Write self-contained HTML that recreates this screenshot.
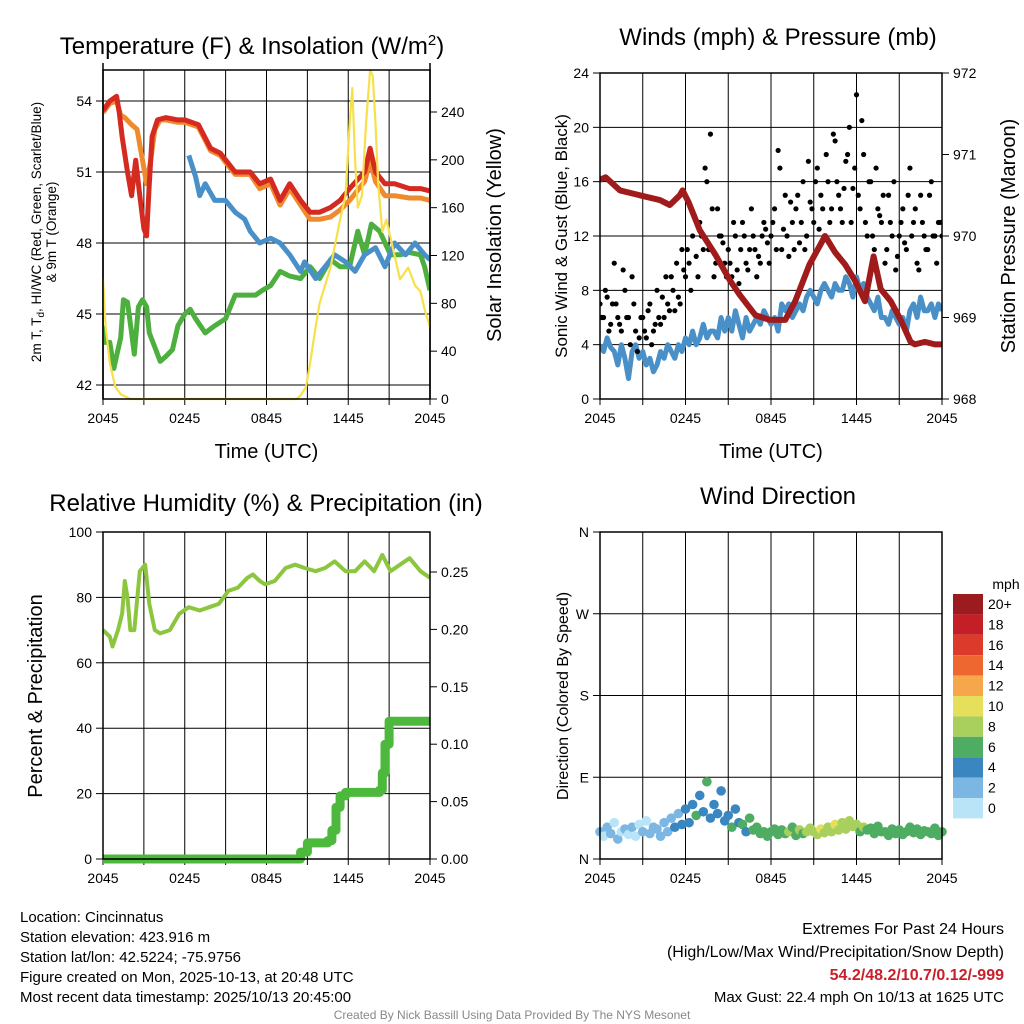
<!DOCTYPE html>
<html><head><meta charset="utf-8"><style>
html,body{margin:0;padding:0;background:#fff;}
svg{display:block;font-family:"Liberation Sans",Arial,sans-serif;}
</style></head><body>
<svg id="chart" width="1024" height="1024" viewBox="0 0 1024 1024" xmlns="http://www.w3.org/2000/svg"></svg>
<script>
// ---------- DATA ----------
const tempRedH = [0,0.5,1.0,1.2,1.4,1.8,2.1,2.4,2.7,3.0,3.2,3.4,3.6,4.0,4.6,5.5,6.0,7.0,7.9,8.6,9.7,10.8,11.5,12.3,13.0,13.7,14.5,15.2,15.9,16.7,17.4,18.1,19.2,19.6,20.0,20.7,21.4,22.5,23.3,24];
const tempRedV = [53.6,54.0,54.2,53.5,52.5,51.0,50.0,51.5,50.0,48.6,48.3,50.5,52.5,53.2,53.3,53.2,53.2,53.0,52.0,51.8,51.0,51.0,50.5,50.7,49.8,50.5,49.8,49.3,49.3,49.5,49.8,50.3,51.0,52.0,51.0,50.5,50.5,50.3,50.3,50.2];
const tempOrgH = [0,0.5,1.0,1.3,1.6,2.1,2.5,2.9,3.2,3.5,3.8,4.2,4.6,5.5,6.0,7.0,7.9,8.6,9.7,10.8,11.5,12.3,13.0,13.7,14.5,15.2,15.9,16.7,17.4,18.1,19.2,19.6,20.0,20.7,21.4,22.5,23.3,24];
const tempOrgV = [53.5,53.9,54.0,53.4,53.3,53.0,52.8,51.5,50.5,51.5,52.8,53.2,53.2,53.1,53.1,52.9,51.9,51.7,50.9,50.9,50.3,50.5,49.6,50.3,49.6,49.0,49.0,49.1,49.4,49.8,50.6,51.5,50.6,50.0,50.0,49.9,49.9,49.8];
const tempBlueH = [6.3,6.8,7.1,7.5,8.2,9.0,9.7,10.4,10.8,11.5,12.3,13.0,13.7,14.5,14.8,15.6,16.3,17.0,17.8,18.5,19.2,20.0,20.7,21.4,22.2,22.9,23.6,24];
const tempBlueV = [51.7,50.8,50.0,50.5,49.8,49.8,49.3,49.0,48.5,48.0,48.2,48.0,47.5,46.8,47.2,46.5,47.0,47.5,47.2,46.8,47.5,47.8,47.0,48.0,47.5,48.0,47.5,47.3];
const dewH = [0,0.15,0.5,0.8,1.1,1.3,1.5,1.8,2.1,2.3,2.6,2.9,3.2,3.4,3.8,4.2,4.6,5.1,5.5,6.0,6.4,6.8,7.5,8.2,9.0,9.7,10.4,11.2,11.7,12.3,13.0,13.7,14.5,15.2,15.9,16.7,17.4,18.1,18.7,19.2,19.7,20.3,21.1,21.8,22.5,23.3,23.6,24];
const dewV = [44.5,43.8,43.8,42.7,43.5,44.0,45.6,45.5,44.2,43.3,45.3,45.6,45.3,44.2,43.6,43.0,43.2,43.5,44.5,45.0,45.2,44.8,44.2,44.5,44.8,45.8,45.8,45.8,46.0,46.2,46.8,46.6,46.5,47.0,46.5,47.3,47.0,47.0,48.5,47.5,48.8,48.5,47.5,47.5,47.6,47.5,47.0,46.0];
const solarH = [0,0.2,0.5,0.9,1.3,2.0,5,10,14.2,14.5,14.9,15.2,15.6,15.9,16.7,17.4,17.8,18.1,18.3,18.5,18.7,19.0,19.3,19.6,19.8,20.0,20.2,20.5,20.8,21.2,21.8,22.4,22.9,23.3,23.6,24];
const solarV = [100,60,30,10,4,0,0,0,0,3,10,30,60,80,110,150,170,230,260,200,160,170,230,275,270,230,180,140,150,130,100,110,95,90,75,60];
const tempTicks = [42,45,48,51,54];
const solarTicks = [0,40,80,120,160,200,240];
const timeLabels = ["2045","0245","0845","1445","2045"];
const windSpd = [4,3.5,4.5,3.8, 3.5,2.5,4,3, 1.5,3.5,4,3, 3.5,2.5,3,2, 2.5,3.5,3,4, 3.5,3,4,3.5, 4.5,4,5,4, 4.5,5.5,4.5,5, 5,4.5,6,5, 6,5,6.5,5.5, 4.5,6,5,5.5, 6,5.5,6.5,6, 5.5,6,5,7, 6.5,7,6,6.5, 7,6.5,7.5,8, 7.5,7,8,8.5, 8,7.5,8.5,8, 8,9,8.5,7.5, 9,8,8.5,7.5, 7,6.5,7.5,6, 6,5.5,6.5,6, 5.5,6,5,6.5, 7,6,7.5,6.5, 6.5,7,6,7, 6.5];
const gustA = [7,6,7.5,5.5, 10,6,5,8, 6,9,5,4.5, 6,4.5,7,5, 8,5.5,6,7, 9,6.5,7.5,11, 9,10,12,10.5, 13,11,16,19.5, 9,14,12,10, 11,9,12,8.5, 13,10,11,12, 9,10,13,11.5, 12,14,18.3,11, 15,10.5,13,14, 11.5,16,12,14.5, 13,17,15,12, 16,14,19,15, 13,17.5,20,15.5, 22.4,14,18,12, 16,11,14,13, 10,15,12,9.5, 12,14,11,17, 13,10,15,12, 11,16,12,13, 12];
const gustB = [6,8,5,7, 7,5.5,9.5,6, 4,7,3.5,6, 5,6.5,4,5.5, 6,7.5,9,6.5, 8,10,7,9.5, 11,8,13.5,9, 12,17,11,14, 10,12,11.5,9, 10,13,9.5,11, 12,9.5,14,11, 10.5,12,12.5,10, 13,11,17,12.5, 12,14.5,11,15, 13,11,17.5,14, 16,12.5,14,18, 13,19.5,16,14, 15.5,18,13,17, 15,20.5,13,16, 12,17,13.5,15, 11,13,16,10.5, 13,11.5,15,12, 14,9.5,13,11, 15,12,10,13];
const presH = [0,0.4,1.4,2.8,4.2,4.9,5.6,5.8,6.2,7.0,8.1,9.1,9.8,10.9,11.9,13.0,13.7,14.7,15.8,16.5,17.2,17.9,18.6,19.2,19.7,20.4,21.1,21.8,22.1,22.8,23.5,24];
const presV = [970.69,970.72,970.56,970.5,970.44,970.38,970.5,970.56,970.42,970.07,969.77,969.46,969.28,969.03,968.97,968.97,969.2,969.65,970.0,969.8,969.65,969.45,969.2,969.75,969.35,969.2,968.97,968.7,968.67,968.7,968.67,968.67];
const windTicks = [0,4,8,12,16,20,24];
const presTicks = [968,969,970,971,972];
const rhH = [0,0.5,0.7,1.1,1.4,1.6,1.8,2.0,2.3,2.7,3.1,3.4,3.8,4.2,4.9,5.6,6.3,7.1,7.8,8.5,9.2,9.9,10.6,11.0,11.5,11.9,12.6,13.4,14.1,14.8,15.6,16.3,17.0,17.8,18.5,19.2,19.9,20.5,21.1,21.8,22.5,23.3,24];
const rhV = [70,68,65,70,75,85,80,70,70,88,90,78,70,69,70,75,77,76,77,78,82,83,86,87,85,84,85,89,90,89,88,89,91,88,88,91,88,93,88,90,92,88,86];
const precipH = [0,14.2,14.5,15.0,16.5,16.8,17.1,17.4,17.8,20.3,20.5,20.7,21.0,24];
const precipV = [0,0,0.006,0.014,0.016,0.025,0.045,0.055,0.058,0.06,0.075,0.1,0.12,0.123];
const rhTicks = [0,20,40,60,80,100];
const precipTicks = [0,0.05,0.10,0.15,0.20,0.25];
const dirDeg = [30,25,35,28, 40,22,30,33, 27,35,25,38, 30,42,28,35, 33,25,40,30, 45,35,50,38, 55,40,60,48, 70,52,85,45, 60,50,75,42, 48,35,55,40, 38,30,45,32, 35,28,30,25, 30,33,27,32, 28,30,35,26, 32,28,30,34, 30,27,33,29, 35,30,38,32, 40,33,42,36, 38,30,35,32, 34,28,36,30, 30,26,33,28, 32,27,30,35, 29,33,27,31, 30,28,34,26, 30];
const dirSpd = [2,1.5,3,2, 1.5,2,1,2.5, 1,2,1.5,1, 2,1.5,3,2, 2.5,3,2,3.5, 3,4,3,4.5, 4,5,4.5,6, 5,4.5,6,5, 4,5.5,4.5,5, 5,6,5,5.5, 6,5.5,6.5,6, 6,7,6.5,6, 7,6.5,7,7.5, 7,8,7.5,7, 8,7.5,9,8.5, 9,8,10,9.5, 8.5,9,10.5,9, 9,8,9.5,8, 8,7.5,8.5,7, 7,6.5,7.5,7, 6.5,7,6,7.5, 7,6.5,7,6, 7,6.5,7.5,6.5, 7,6,7,6.5, 6.5];
const dirLabels = ["N","E","S","W","N"];
const cbLabels = ["20+","18","16","14","12","10","8","6","4","2","0"];
const cbColors = ["#9b1b1e","#c41f26","#dc3a2b","#ef6730","#f7a74b","#e5df5c","#a9cf5c","#4fac63","#3a86c0","#7bb7e2","#b9e3f7"];

// ---------- HELPERS ----------
const NS = "http://www.w3.org/2000/svg";
const svg = document.getElementById("chart");
function el(tag, attrs, parent) {
  const e = document.createElementNS(NS, tag);
  for (const k in attrs) e.setAttribute(k, attrs[k]);
  (parent || svg).appendChild(e);
  return e;
}
function txt(s, x, y, size, anchor, parent, extra) {
  const t = el("text", Object.assign({x: x, y: y, "font-size": size, "text-anchor": anchor || "middle", fill: "#000"}, extra || {}), parent);
  t.textContent = s;
  return t;
}
function lin(d0, d1, r0, r1) { return v => r0 + (v - d0) / (d1 - d0) * (r1 - r0); }
function pathD(xs, ys, fx, fy) { return xs.map((h, i) => (i ? "L" : "M") + fx(h).toFixed(1) + "," + fy(ys[i]).toFixed(1)).join(""); }
function stepD(xs, ys, fx, fy) {
  let d = "M" + fx(xs[0]) + "," + fy(ys[0]);
  for (let i = 1; i < xs.length; i++) d += "L" + fx(xs[i]).toFixed(1) + "," + fy(ys[i - 1]).toFixed(1) + "L" + fx(xs[i]).toFixed(1) + "," + fy(ys[i]).toFixed(1);
  return d;
}
function frame(g, x0, y0, x1, y1) {
  el("rect", {x: x0, y: y0, width: x1 - x0, height: y1 - y0, fill: "none", stroke: "#000", "stroke-width": 1.5}, g);
}
function timeAxis(g, fx, y1, y0, labelY) {
  for (let h = 0; h <= 24; h += 3) {
    el("line", {x1: fx(h), x2: fx(h), y1: y0, y2: y1, stroke: "#000", "stroke-width": 1}, g);
    el("line", {x1: fx(h), x2: fx(h), y1: y1, y2: y1 + 6, stroke: "#000", "stroke-width": 1}, g);
  }
  timeLabels.forEach((s, i) => {
    const t = txt(s, fx(i * 6), y1 + 24, 14, "middle", g);
    
    
  });
  if (labelY) {
    const t = txt("Time (UTC)", (fx(0) + fx(24)) / 2, labelY, 20, "middle", g);
    
    
  }
}
function yTicks(g, ticks, fy, xAxis, side, fmt, grid, x0, x1) {
  ticks.forEach(v => {
    const y = fy(v);
    if (grid) el("line", {x1: x0, x2: x1, y1: y, y2: y, stroke: "#000", "stroke-width": 1}, g);
    el("line", {x1: xAxis, x2: xAxis + side * 7, y1: y, y2: y, stroke: "#000", "stroke-width": 1}, g);
    const t = txt(fmt(v), xAxis + side * 11, y + 5, 14, side < 0 ? "end" : "start", g);
    
    
  });
}

// ---------- PANEL 1 ----------
const g1 = el("g", {});


const p1 = {x0: 103, x1: 430, y0: 70, y1: 399};
const fx1 = lin(0, 24, p1.x0, p1.x1);
const fyT = lin(42, 54, 385, 101);
const fyS = lin(0, 240, 399, 112);
timeAxis(g1, fx1, p1.y1, p1.y0, 458);
yTicks(g1, tempTicks, fyT, p1.x0, -1, v => v, true, p1.x0, p1.x1);
yTicks(g1, solarTicks, fyS, p1.x1, 1, v => v, false);
el("line", {x1: p1.x1, x2: p1.x1, y1: 63, y2: p1.y1, stroke: "#000", "stroke-width": 1.5}, g1);
el("line", {x1: p1.x0, x2: p1.x0, y1: 63, y2: p1.y1, stroke: "#000", "stroke-width": 1.5}, g1);
const clip1 = el("clipPath", {id: "c1"}, g1);
el("rect", {x: p1.x0, y: p1.y0 - 4, width: p1.x1 - p1.x0, height: p1.y1 - p1.y0 + 6}, clip1);
const s1 = el("g", {"clip-path": "url(#c1)"}, g1);
let ln;
ln = el("path", {d: pathD(dewH, dewV, fx1, fyT), fill: "none", stroke: "#4caf3e", "stroke-width": 5, "stroke-linejoin": "round"}, s1);


ln = el("path", {d: pathD(tempBlueH, tempBlueV, fx1, fyT), fill: "none", stroke: "#4a90c8", "stroke-width": 5, "stroke-linejoin": "round"}, s1);


ln = el("path", {d: pathD(tempOrgH, tempOrgV, fx1, fyT), fill: "none", stroke: "#f08a2e", "stroke-width": 5, "stroke-linejoin": "round"}, s1);


ln = el("path", {d: pathD(tempRedH, tempRedV, fx1, fyT), fill: "none", stroke: "#d42a20", "stroke-width": 5, "stroke-linejoin": "round"}, s1);


ln = el("path", {d: pathD(solarH, solarV, fx1, fyS), fill: "none", stroke: "#f7e04a", "stroke-width": 2.2, "stroke-linejoin": "round"}, s1);


frame(g1, p1.x0, p1.y0, p1.x1, p1.y1);
let t = txt("Temperature (F) & Insolation (W/m", 252, 54, 24, "middle", g1);
const sup = el("tspan", {dy: -9, "font-size": 15}, t); sup.textContent = "2";
const cl = el("tspan", {dy: 9}, t); cl.textContent = ")";


t = txt("2m T, T", 0, 0, 13.5, "middle", g1, {transform: "translate(41,232) rotate(-90)"});
const sub = el("tspan", {dy: 3, "font-size": 10}, t); sub.textContent = "d";
const rest = el("tspan", {dy: -3}, t); rest.textContent = ", HI/WC (Red, Green, Scarlet/Blue)";


t = txt("& 9m T (Orange)", 0, 0, 13.5, "middle", g1, {transform: "translate(56,232) rotate(-90)"});


t = txt("Solar Insolation (Yellow)", 0, 0, 20, "middle", g1, {transform: "translate(501,235) rotate(-90)"});



// ---------- PANEL 2 ----------
const g2 = el("g", {});


const p2 = {x0: 600, x1: 942, y0: 73, y1: 399};
const fx2 = lin(0, 24, p2.x0, p2.x1);
const fyW = lin(0, 24, 399, 73);
const fyP = lin(968, 972, 399, 73);
timeAxis(g2, fx2, p2.y1, p2.y0, 458);
yTicks(g2, windTicks, fyW, p2.x0, -1, v => v, true, p2.x0, p2.x1);
yTicks(g2, presTicks, fyP, p2.x1, 1, v => v, false);
const clip2 = el("clipPath", {id: "c2"}, g2);
el("rect", {x: p2.x0, y: p2.y0, width: p2.x1 - p2.x0, height: p2.y1 - p2.y0}, clip2);
const s2 = el("g", {"clip-path": "url(#c2)"}, g2);
const wH = windSpd.map((v, i) => i * 0.25);
ln = el("path", {d: pathD(wH, windSpd, fx2, fyW), fill: "none", stroke: "#4a90c8", "stroke-width": 5, "stroke-linejoin": "round"}, s2);


gustA.forEach((v, i) => {
  const c = el("circle", {cx: fx2(i * 0.25), cy: fyW(v), r: 2.6, fill: "#000"}, s2);
  
  
});
gustB.forEach((v, i) => {
  const c = el("circle", {cx: fx2(i * 0.25 + 0.125), cy: fyW(v), r: 2.6, fill: "#000"}, s2);
  
  
});
ln = el("path", {d: pathD(presH, presV, fx2, fyP), fill: "none", stroke: "#a01c1c", "stroke-width": 6, "stroke-linejoin": "round"}, s2);


frame(g2, p2.x0, p2.y0, p2.x1, p2.y1);
t = txt("Winds (mph) & Pressure (mb)", 778, 45, 24, "middle", g2);


t = txt("Sonic Wind & Gust (Blue, Black)", 0, 0, 17, "middle", g2, {transform: "translate(567,236) rotate(-90)"});


t = txt("Station Pressure (Maroon)", 0, 0, 20, "middle", g2, {transform: "translate(1015,236) rotate(-90)"});



// ---------- PANEL 3 ----------
const g3 = el("g", {});


const p3 = {x0: 103, x1: 430, y0: 532, y1: 859};
const fx3 = lin(0, 24, p3.x0, p3.x1);
const fyR = lin(0, 100, 859, 532);
const fyPr = lin(0, 0.25, 859, 572);
timeAxis(g3, fx3, p3.y1, p3.y0, 0);
yTicks(g3, rhTicks, fyR, p3.x0, -1, v => v, true, p3.x0, p3.x1);
yTicks(g3, precipTicks, fyPr, p3.x1, 1, v => v.toFixed(2), false);
const clip3 = el("clipPath", {id: "c3"}, g3);
el("rect", {x: p3.x0, y: p3.y0, width: p3.x1 - p3.x0, height: p3.y1 - p3.y0 + 6}, clip3);
const s3 = el("g", {"clip-path": "url(#c3)"}, g3);
ln = el("path", {d: pathD(rhH, rhV, fx3, fyR), fill: "none", stroke: "#8cc63f", "stroke-width": 4, "stroke-linejoin": "round"}, s3);


ln = el("path", {d: stepD(precipH, precipV, fx3, fyPr), fill: "none", stroke: "#4cb83c", "stroke-width": 9, "stroke-linejoin": "round"}, s3);


frame(g3, p3.x0, p3.y0, p3.x1, p3.y1);
t = txt("Relative Humidity (%) & Precipitation (in)", 266, 511, 24, "middle", g3);


t = txt("Percent & Precipitation", 0, 0, 20, "middle", g3, {transform: "translate(42,696) rotate(-90)"});



// ---------- PANEL 4 ----------
const g4 = el("g", {});


const p4 = {x0: 600, x1: 942, y0: 532, y1: 859};
const fx4 = lin(0, 24, p4.x0, p4.x1);
const fyD = lin(0, 360, 859, 532);
timeAxis(g4, fx4, p4.y1, p4.y0, 0);
dirLabels.forEach((s, i) => {
  const y = fyD(i * 90);
  el("line", {x1: p4.x0, x2: p4.x1, y1: y, y2: y, stroke: "#000", "stroke-width": 1}, g4);
  el("line", {x1: p4.x0, x2: p4.x0 - 7, y1: y, y2: y, stroke: "#000", "stroke-width": 1}, g4);
  const tt = txt(s, p4.x0 - 11, y + 5, 14, "end", g4);
  
  
});
dirDeg.forEach((v, i) => {
  const ci = Math.max(0, Math.min(10, Math.floor(dirSpd[i] / 2)));
  const c = el("circle", {cx: fx4(i * 0.25), cy: fyD(v), r: 4.8, fill: cbColors[10 - ci]}, g4);
  
  
});
frame(g4, p4.x0, p4.y0, p4.x1, p4.y1);
t = txt("Wind Direction", 778, 504, 24, "middle", g4);


t = txt("Direction (Colored By Speed)", 0, 0, 16, "middle", g4, {transform: "translate(568,696) rotate(-90)"});


const cb = el("g", {}, g4);


t = txt("mph", 1006, 589, 14, "middle", cb);


cbColors.forEach((c, i) => {
  const r = el("rect", {x: 953, y: 594 + i * 20.4, width: 30, height: 20.4, fill: c}, cb);
  
  
  const l = txt(cbLabels[i], 988, 594 + i * 20.4 + 15, 14, "start", cb);
  
  
});

// ---------- FOOTER TEXT ----------
const info = ["Location: Cincinnatus","Station elevation: 423.916 m","Station lat/lon: 42.5224; -75.9756","Figure created on Mon, 2025-10-13, at 20:48 UTC","Most recent data timestamp: 2025/10/13 20:45:00"];
info.forEach((s, i) => {
  const l = txt(s, 20, 922 + i * 20, 15, "start");
  
  
});
t = txt("Extremes For Past 24 Hours", 1004, 934, 16, "end");


t = txt("(High/Low/Max Wind/Precipitation/Snow Depth)", 1004, 957, 16, "end");


t = txt("54.2/48.2/10.7/0.12/-999", 1004, 980, 16, "end", null, {fill: "#c8202a", "font-weight": "bold"});


t = txt("Max Gust: 22.4 mph On 10/13 at 1625 UTC", 1004, 1002, 15, "end");


t = txt("Created By Nick Bassill Using Data Provided By The NYS Mesonet", 512, 1019, 12, "middle", null, {fill: "#888"});


</script>
</body></html>
